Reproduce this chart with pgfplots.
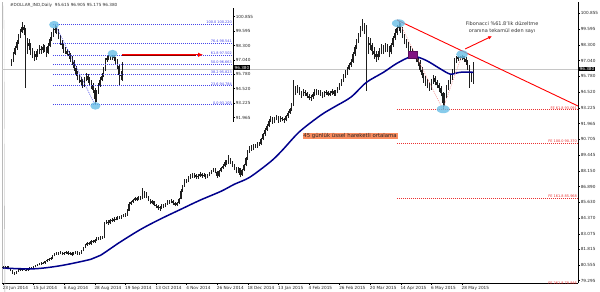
\documentclass[border=0pt]{standalone}
\usepackage{pgfplots}
\pgfplotsset{compat=1.18}
\usepackage{pgfplotstable}
\usepackage{fontspec}
\setmainfont{DejaVu Sans}
\usetikzlibrary{arrows.meta}

\definecolor{emablue}{RGB}{0,0,140}
\definecolor{fibblue}{RGB}{70,70,235}
\definecolor{ferred}{RGB}{235,50,50}
\definecolor{ellblue}{RGB}{105,190,230}
\definecolor{sqpurple}{RGB}{130,20,130}
\definecolor{orangebox}{RGB}{250,140,95}
\definecolor{candle}{RGB}{30,30,30}

\newcommand{\axfont}{\fontsize{4.2}{5}\selectfont}
\newcommand{\smfont}{\fontsize{3.5}{4}\selectfont}
\newcommand{\anfont}{\fontsize{5}{7}\selectfont}

% daily OHLC, one row per trading day (index 0 = 23 Jun 2014)
\pgfplotstableread{
o h l c
80.35 80.45 80.28 80.38
80.38 80.44 80.26 80.32
80.32 80.47 80.28 80.40
80.40 80.46 80.20 80.25
80.25 80.30 80.04 80.10
80.10 80.14 79.86 79.92
79.92 79.98 79.78 79.85
79.85 80.10 79.82 80.05
80.05 80.26 80.00 80.20
80.20 80.25 80.08 80.14
80.14 80.30 80.10 80.24
80.24 80.30 80.12 80.18
80.18 80.22 80.05 80.12
80.12 80.27 80.08 80.22
80.22 80.36 80.18 80.30
80.30 80.36 80.22 80.28
80.28 80.47 80.24 80.42
80.42 80.56 80.38 80.50
80.50 80.64 80.46 80.58
80.58 80.70 80.53 80.63
80.63 80.80 80.58 80.74
80.74 80.82 80.64 80.70
80.70 80.92 80.66 80.86
80.86 81.02 80.80 80.96
80.96 81.12 80.90 81.05
81.05 81.20 81.00 81.12
81.12 81.36 81.08 81.30
81.30 81.50 81.25 81.44
81.44 81.60 81.38 81.52
81.52 81.62 81.40 81.48
81.48 81.66 81.42 81.58
81.58 81.64 81.38 81.45
81.45 81.60 81.38 81.52
81.52 81.68 81.46 81.60
81.60 81.66 81.40 81.47
81.47 81.62 81.40 81.55
81.55 81.60 81.32 81.40
81.40 81.58 81.35 81.50
81.50 81.70 81.46 81.62
81.62 81.66 81.38 81.44
81.44 81.60 81.38 81.52
81.52 81.76 81.48 81.70
81.70 82.02 81.66 81.95
81.95 82.24 81.90 82.17
82.17 82.38 82.12 82.30
82.30 82.40 82.18 82.25
82.25 82.56 82.20 82.49
82.49 82.58 82.35 82.42
82.42 82.62 82.36 82.55
82.55 82.78 82.50 82.70
82.70 82.80 82.55 82.62
82.62 82.88 82.58 82.81
82.81 82.92 82.68 82.76
82.76 84.05 82.70 83.95
83.95 84.18 83.85 84.05
84.05 84.15 83.80 83.92
83.92 84.28 83.86 84.20
84.20 84.32 84.02 84.12
84.12 84.40 84.05 84.30
84.30 84.42 84.15 84.25
84.25 84.50 84.18 84.40
84.40 84.52 84.25 84.34
84.34 84.58 84.28 84.48
84.48 84.70 84.40 84.60
84.60 84.72 84.45 84.55
84.55 85.05 84.50 84.95
84.95 85.60 84.90 85.50
85.50 85.74 85.40 85.62
85.62 85.90 85.55 85.80
85.80 86.08 85.72 85.96
85.96 86.05 85.70 85.84
85.84 86.12 85.78 86.02
86.02 86.15 85.80 85.90
85.90 86.77 85.85 86.10
86.10 86.55 86.00 86.40
86.40 86.45 85.95 86.05
86.05 86.10 85.70 85.80
85.80 85.88 85.45 85.55
85.55 85.80 85.45 85.70
85.70 85.75 85.30 85.40
85.40 85.50 85.15 85.30
85.30 85.38 85.00 85.12
85.12 85.32 84.95 85.20
85.20 85.45 85.10 85.35
85.35 85.45 85.15 85.28
85.28 85.58 85.20 85.50
85.50 85.80 85.42 85.68
85.68 85.78 85.48 85.60
85.60 85.85 85.52 85.75
85.75 85.80 85.42 85.52
85.52 85.60 85.28 85.40
85.40 85.65 85.30 85.56
85.56 86.00 85.50 85.90
85.90 86.65 85.85 86.55
86.55 87.05 86.45 86.95
86.95 87.48 86.88 87.35
87.35 87.48 87.15 87.30
87.30 87.72 87.22 87.60
87.60 87.92 87.50 87.80
87.80 87.95 87.58 87.70
87.70 87.98 87.60 87.85
87.85 87.92 87.50 87.62
87.62 87.86 87.52 87.75
87.75 88.02 87.65 87.90
87.90 87.98 87.60 87.72
87.72 87.96 87.62 87.85
87.85 87.92 87.52 87.65
87.65 87.90 87.55 87.80
87.80 88.06 87.70 87.95
87.95 88.22 87.88 88.10
88.10 88.40 88.02 88.25
88.25 88.35 87.95 88.05
88.05 88.12 87.60 87.75
87.75 88.20 87.68 88.10
88.10 88.45 88.02 88.35
88.35 88.68 88.28 88.55
88.55 89.02 88.45 88.90
88.90 89.05 88.62 88.75
88.75 89.42 88.70 89.05
89.05 89.15 88.70 88.85
88.85 88.95 88.45 88.60
88.60 88.70 88.25 88.40
88.40 88.50 87.95 88.10
88.10 88.48 88.00 88.35
88.35 88.40 87.62 87.85
87.85 88.30 87.75 88.20
88.20 88.72 88.12 88.60
88.60 89.25 88.52 89.15
89.15 89.82 89.05 89.70
89.70 90.18 89.60 90.05
90.05 90.22 89.78 89.90
89.90 90.32 89.82 90.20
90.20 90.35 89.98 90.10
90.10 90.48 90.02 90.35
90.35 90.50 90.18 90.30
90.30 90.82 90.22 90.70
90.70 91.22 90.62 91.10
91.10 91.58 91.00 91.45
91.45 91.92 91.38 91.80
91.80 92.32 91.70 92.20
92.20 92.55 92.08 92.40
92.40 92.50 91.95 92.10
92.10 92.48 92.00 92.35
92.35 92.65 92.22 92.50
92.50 92.58 92.05 92.20
92.20 92.55 92.10 92.40
92.40 92.52 92.15 92.30
92.30 92.45 92.05 92.25
92.25 92.68 92.15 92.55
92.55 92.98 92.45 92.85
92.85 93.25 92.75 93.10
93.10 93.65 93.00 93.50
93.50 95.48 93.40 94.70
94.70 95.00 94.30 94.55
94.55 95.05 94.40 94.80
94.80 94.95 94.25 94.45
94.45 94.62 94.05 94.30
94.30 94.75 94.15 94.55
94.55 94.70 94.20 94.40
94.40 94.55 94.00 94.20
94.20 94.35 93.85 94.05
94.05 94.30 93.80 94.10
94.10 94.52 93.95 94.35
94.35 94.78 94.20 94.60
94.60 94.72 94.25 94.40
94.40 94.70 94.25 94.55
94.55 94.65 94.18 94.35
94.35 94.48 94.02 94.20
94.20 94.60 94.10 94.45
94.45 94.70 94.30 94.50
94.50 94.62 94.15 94.30
94.30 94.58 94.18 94.40
94.40 94.75 94.28 94.60
94.60 94.70 94.20 94.35
94.35 94.68 94.22 94.50
94.50 94.95 94.40 94.80
94.80 95.25 94.70 95.10
95.10 95.55 95.00 95.40
95.40 95.95 95.30 95.80
95.80 96.25 95.65 96.05
96.05 96.55 95.90 96.40
96.40 96.88 96.28 96.70
96.70 97.15 96.55 96.95
96.95 97.75 96.85 97.60
97.60 98.30 97.45 98.10
98.10 98.80 97.95 98.60
98.60 99.30 98.45 99.10
99.10 99.80 98.95 99.55
99.55 100.40 99.40 99.95
99.95 100.10 99.20 99.65
99.65 99.90 94.60 98.10
98.10 98.95 97.60 98.50
98.50 98.85 97.90 98.30
98.30 98.50 97.50 97.80
97.80 98.10 97.20 97.55
97.55 97.85 96.95 97.30
97.30 97.80 97.05 97.55
97.55 98.05 97.30 97.75
97.75 98.35 97.55 98.05
98.05 98.30 97.60 97.90
97.90 98.45 97.70 98.15
98.15 98.40 97.75 98.00
98.00 98.20 97.30 97.70
97.70 98.50 97.55 98.30
98.30 99.05 98.15 98.85
98.85 99.55 98.70 99.30
99.30 99.90 99.10 99.65
99.65 100.22 99.45 99.80
99.80 100.05 99.30 99.60
99.60 99.75 98.85 99.05
99.05 99.20 98.35 98.55
98.55 98.80 98.05 98.35
98.35 98.55 97.70 97.95
97.95 98.20 97.55 97.85
97.85 98.05 97.35 97.60
97.60 97.85 97.15 97.40
97.40 97.65 96.90 97.15
97.15 97.35 96.60 96.90
96.90 97.05 96.10 96.30
96.30 96.50 95.60 95.85
95.85 96.05 95.25 95.55
95.55 95.80 95.00 95.30
95.30 95.55 94.80 95.10
95.10 95.35 94.60 94.90
94.90 95.55 94.70 95.35
95.35 95.90 95.15 95.65
95.65 95.80 95.05 95.30
95.30 95.50 94.80 95.05
95.05 95.25 94.50 94.80
94.80 95.00 94.15 94.40
94.40 94.55 93.105 93.60
93.60 94.40 93.35 94.20
94.20 95.05 94.05 94.85
94.85 95.50 94.70 95.30
95.30 95.90 95.15 95.65
95.65 96.40 95.50 96.20
96.20 97.25 96.05 97.05
97.05 97.40 96.85 97.20
97.20 97.45 97.00 97.35
97.35 97.42 97.05 97.25
97.25 97.49 97.05 97.40
97.40 97.45 96.95 97.20
97.20 97.30 96.70 96.95
96.95 97.10 96.25 96.50
96.50 96.65 94.85 95.70
95.70 96.10 95.30 95.62
95.615 96.905 95.175 96.380
}\ohlc

\pgfplotsset{
  wick/.style={draw=none, mark=none, forget plot,
    error bars/.cd, y dir=plus, y explicit,
    error bar style={draw=candle, solid, line width=0.5bp}, error mark=none},
  body/.style={draw=none, mark=none, forget plot,
    error bars/.cd, y dir=plus, y explicit,
    error bar style={draw=candle, solid, line width=1.35bp}, error mark=none},
}

\begin{document}
\begin{tikzpicture}
\useasboundingbox (0,0) rectangle (600bp,292bp);

% ================= main chart =================
\begin{axis}[
  at={(2bp,9bp)}, anchor=south west,
  scale only axis, width=576bp, height=281bp,
  xmin=-0.5, xmax=300.7, ymin=79.105, ymax=101.766,
  axis x line=bottom, axis y line=right,
  axis line style={-, black, line width=0.5bp},
  x axis line style={-}, y axis line style={-},
  xtick={0,16,...,240},
  xticklabels={23 Jun 2014,15 Jul 2014,6 Aug 2014,28 Aug 2014,19 Sep 2014,13 Oct 2014,4 Nov 2014,26 Nov 2014,18 Dec 2014,13 Jan 2015,4 Feb 2015,26 Feb 2015,20 Mar 2015,14 Apr 2015,6 May 2015,28 May 2015},
  xtick align=outside, ytick align=outside,
  major tick length=2bp,
  tick style={black, line width=0.4bp},
  ytick={100.855,99.595,98.300,97.040,95.780,94.520,93.225,91.965,90.705,89.445,88.150,86.890,85.630,84.370,83.075,81.815,80.555,79.295},
  /pgf/number format/assume math mode=true,
  yticklabel style={font=\axfont, anchor=west, inner sep=0.6bp, text=black!85,
    /pgf/number format/.cd, fixed, fixed zerofill, precision=3, 1000 sep={}},
  xticklabel style={font=\axfont, anchor=north west, inner sep=0.6bp, xshift=-1bp,
    text height=3.2bp, text depth=0.9bp, text=black!85},
  clip mode=individual,
]
% left frame
\draw[gray!55, line width=0.5bp] (rel axis cs:0,0) -- (rel axis cs:0,1);
% current price line
\addplot[gray!45, line width=0.4bp, forget plot] coordinates {(-0.5,96.38) (300.7,96.38)};

% candles
\addplot[wick] table[x expr=\coordindex, y=l, y error plus expr=\thisrow{h}-\thisrow{l}] {\ohlc};
\addplot[body] table[x expr=\coordindex, y expr={min(\thisrow{o},\thisrow{c})},
  y error plus expr={max(abs(\thisrow{c}-\thisrow{o}),0.04)}] {\ohlc};

% 45-day EMA
\addplot[emablue, line width=1.5bp, smooth, tension=0.5] coordinates {
 (0,80.31) (16,80.25) (30,80.50) (46,81.02) (51,81.34) (61,82.38) (72,83.43)
 (82,84.24) (93,85.05) (103,85.78) (114,86.50) (121,87.07) (129,87.63)
 (140,88.90) (146,89.80) (155,91.30) (166,92.62) (173,93.28) (182,94.10)
 (190,95.28) (199,96.10) (206,96.82) (214,97.38) (221,97.08) (229,96.35)
 (234,95.95) (239,96.10) (246,96.10)};

% Fibonacci expansion levels
\addplot[ferred, dash pattern=on 1bp off 1bp, line width=0.5bp] coordinates {(206,93.091) (300.7,93.091)};
\addplot[ferred, dash pattern=on 1bp off 1bp, line width=0.5bp] coordinates {(206,90.370) (300.7,90.370)};
\addplot[ferred, dash pattern=on 1bp off 1bp, line width=0.5bp] coordinates {(206,85.968) (300.7,85.968)};
\node[anchor=south east, font=\smfont, text=ferred, inner sep=0.3bp] at (axis cs:300.4,93.091) {FE 61.8 93.091};
\node[anchor=south east, font=\smfont, text=ferred, inner sep=0.3bp] at (axis cs:300.4,90.370) {FE 100.0 90.370};
\node[anchor=south east, font=\smfont, text=ferred, inner sep=0.3bp] at (axis cs:300.4,85.968) {FE 161.8 85.968};
\node[anchor=south east, font=\smfont, text=ferred, inner sep=0.3bp] at (axis cs:300.4,78.98) {FE 261.8 78.846};

% A-B-C zigzag
\addplot[ferred!55, dash pattern=on 1bp off 1bp, line width=0.5bp] coordinates {(207,100.22) (230,93.105) (240,97.49)};

% down trend line
\addplot[red, line width=0.9bp] coordinates {(206.1,100.315) (300.7,93.38)};

% highlights
\fill[ellblue, opacity=0.8] (axis cs:206.8,100.05) ellipse [x radius=6.5bp, y radius=4bp];
\fill[ellblue, opacity=0.8] (axis cs:230.2,93.12) ellipse [x radius=6.5bp, y radius=4bp];
\fill[ellblue, opacity=0.8] (axis cs:240.1,97.55) ellipse [x radius=6bp, y radius=4bp];
\filldraw[fill=sqpurple, draw=sqpurple!70!black, line width=0.4bp] (axis cs:214.4,97.49) ++(-4.5bp,-3.5bp) rectangle ++(9bp,7bp);

% annotation
\draw[red, line width=0.9bp, -{Latex[length=4bp,width=3.5bp]}] (axis cs:241.7,97.98) -- (axis cs:255.8,99.02);
\node[font=\anfont, text=black!80, align=center, inner sep=0pt] at (axis cs:261.0,99.70) {Fibonacci \%61.8'lik düzeltme\\oranına tekamül eden sayı};
\node[fill=orangebox, font=\fontsize{5.4}{6}\selectfont, inner sep=0.8bp, text=black!85] at (axis cs:181.5,90.96) {45 günlük üssel hareketli ortalama};

% title
\node[anchor=west, font=\axfont, text=black!80, inner sep=0pt] at (axis cs:3.6,101.50) {\#DOLLAR\_IND,Daily~~95.615 96.905 95.175 96.380};
\fill[gray!70] (axis cs:1.3,101.40) ++(-1.5bp,1bp) -- ++(3bp,0) -- ++(-1.5bp,-2bp) -- cycle;
% chart shift marker
\fill[gray!55] (axis cs:246.9,101.766) ++(-2.5bp,0) -- ++(5bp,0) -- ++(-2.5bp,-3bp) -- cycle;

% current price box
\node[fill=black, text=white, font=\axfont, anchor=west, inner sep=0.6bp, xshift=0.8bp] at (axis cs:300.7,96.38) {96.380};
\end{axis}

% ================= inset (recent swing with retracement) =================
\begin{axis}[
  at={(4bp,170bp)}, anchor=south west,
  scale only axis, width=229bp, height=114bp,
  xmin=177.6, xmax=309.65, ymin=91.58, ymax=101.62,
  axis x line=none, axis y line=right,
  axis line style={-, black, line width=0.5bp},
  y axis line style={-},
  xtick=\empty,
  ytick={100.855,99.595,98.300,97.040,95.780,94.520,93.225,91.965},
  ytick align=outside, major tick length=2bp,
  tick style={black, line width=0.4bp},
  /pgf/number format/assume math mode=true,
  yticklabel style={font=\axfont, anchor=west, inner sep=0.6bp, text=black!85,
    /pgf/number format/.cd, fixed, fixed zerofill, precision=3, 1000 sep={}},
  clip mode=individual,
]
\addplot[restrict x to domain=181.5:246.5, wick] table[x expr=\coordindex, y=l, y error plus expr=\thisrow{h}-\thisrow{l}] {\ohlc};
\addplot[restrict x to domain=181.5:246.5, body] table[x expr=\coordindex, y expr={min(\thisrow{o},\thisrow{c})},
  y error plus expr={max(abs(\thisrow{c}-\thisrow{o}),0.04)}] {\ohlc};

% retracement levels
\pgfplotsinvokeforeach{100.220,98.541,97.502,96.663,95.823,94.784,93.105}{
  \addplot[fibblue, dash pattern=on 1bp off 1bp, line width=0.5bp, forget plot] coordinates {(206,#1) (309.65,#1)};
}
\node[anchor=south east, font=\smfont, text=fibblue, inner sep=0.3bp] at (axis cs:309.3,100.220) {100.0 100.220};
\node[anchor=south east, font=\smfont, text=fibblue, inner sep=0.3bp] at (axis cs:309.3,98.541) {76.4 98.541};
\node[anchor=south east, font=\smfont, text=fibblue, inner sep=0.3bp] at (axis cs:309.3,97.502) {61.8 97.502};
\node[anchor=south east, font=\smfont, text=fibblue, inner sep=0.3bp] at (axis cs:309.3,96.663) {50.0 96.663};
\node[anchor=south east, font=\smfont, text=fibblue, inner sep=0.3bp] at (axis cs:309.3,95.823) {38.2 95.823};
\node[anchor=south east, font=\smfont, text=fibblue, inner sep=0.3bp] at (axis cs:309.3,94.784) {23.6 94.784};
\node[anchor=south east, font=\smfont, text=fibblue, inner sep=0.3bp] at (axis cs:309.3,93.105) {0.0 93.105};
\addplot[fibblue, dash pattern=on 1bp off 1bp, line width=0.5bp] coordinates {(207,100.22) (230,93.105)};

% highlights
\fill[ellblue, opacity=0.8] (axis cs:206.5,100.15) ellipse [x radius=5bp, y radius=3.8bp];
\fill[ellblue, opacity=0.8] (axis cs:230.3,93.00) ellipse [x radius=5bp, y radius=3.8bp];
\fill[ellblue, opacity=0.8] (axis cs:240.2,97.60) ellipse [x radius=5bp, y radius=3.8bp];

% arrow
\draw[red!55!black, line width=1.9bp] (axis cs:245.6,97.50) -- (axis cs:288.5,97.50);
\draw[red, line width=1.1bp, -{Latex[length=5bp,width=4.5bp]}] (axis cs:245.6,97.50) -- (axis cs:292.4,97.50);

\node[fill=black, text=white, font=\axfont, anchor=west, inner sep=0.6bp, xshift=0.8bp] at (axis cs:309.65,96.38) {96.380};
\end{axis}
\end{tikzpicture}
\end{document}
